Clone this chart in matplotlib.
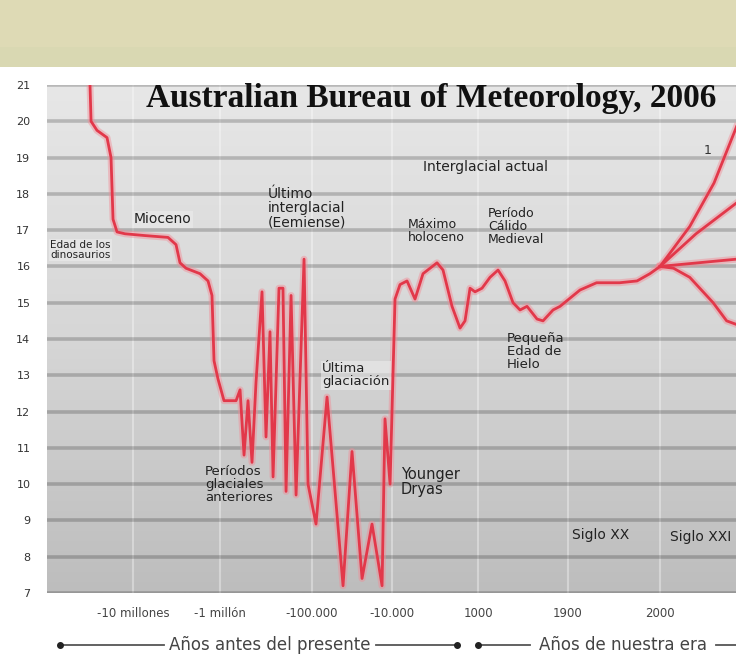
import numpy as np
import matplotlib

matplotlib.use("Agg")
import matplotlib.pyplot as plt
from matplotlib.colors import LinearSegmentedColormap
from matplotlib.lines import Line2D
from matplotlib.transforms import blended_transform_factory

# --- data: global mean temperature (°C) ---------------------------------
# x: negative = years before present, positive = calendar year (schematic axis)
hist_years = [-55.0e6, -53.9e6, -47.7e6, -37.2e6, -33.0e6, -30.9e6, -26.7e6,
              -18.4e6, -8.76e6, -6.38e6, -5.55e6, -5.14e6, -4.52e6, -3.07e6,
              -2.24e6, -1.83e6, -1.62e6, -1.21e6,
              -961e3, -843e3, -804e3, -765e3, -726e3, -687e3, -648e3, -589e3,
              -550e3, -511e3, -481e3, -423e3, -384e3, -354e3, -305e3, -256e3,
              -178e3, -139e3,
              -95.5e3, -83.1e3, -65.1e3, -55e3, -43.7e3, -32.5e3, -21.2e3,
              -17.9e3, -12.2e3,
              -9616, -8977, -8081, -7058, -6035, -4244, -3477, -2326, -1303,
              -663, -23, 616,
              1040, 1120, 1200, 1270, 1350, 1420, 1490, 1590, 1650, 1750, 1820,
              1913, 1931, 1956, 1975, 1989, 2000]
hist_temp = [21.0, 20.0, 19.75, 19.55, 19.0, 17.3, 16.95,
             16.9, 16.85, 16.8, 16.6, 16.1, 15.95, 15.8,
             15.6, 15.2, 13.4, 12.9,
             12.3, 12.3, 12.6, 10.8, 12.3, 10.6, 12.8, 15.3,
             11.3, 14.2, 10.2, 15.4, 15.4, 9.8, 15.2, 9.7,
             16.2, 10.0,
             8.9, 12.4, 7.2, 10.9, 7.4, 8.9, 7.2,
             11.8, 10.0,
             15.1, 15.5, 15.6, 15.1, 15.8, 16.1, 15.9, 14.9, 14.3,
             14.5, 15.4, 15.3,
             15.4, 15.7, 15.9, 15.6, 15.0, 14.8, 14.9, 14.55, 14.5, 14.8, 14.9,
             15.35, 15.55, 15.55, 15.6, 15.8, 16.0]

# future scenarios from 2000
scen1_years = [2000, 2033, 2060, 2085]
scen1_temp = [16.0, 17.1, 18.3, 19.85]
scen2_years = [2000, 2040, 2085]
scen2_temp = [16.0, 16.9, 17.75]
scen3_years = [2000, 2085]
scen3_temp = [16.0, 16.2]
scen4_years = [2000, 2015, 2033, 2059, 2074, 2085]
scen4_temp = [16.0, 15.95, 15.7, 15.0, 14.5, 14.4]

tick_years = [-10e6, -1e6, -1e5, -1e4, 1000, 1900, 2000]
tick_labels = ["-10 millones", "-1 millón", "-100.000", "-10.000", "1000", "1900", "2000"]

# schematic (piecewise) x axis: year -> position
anchor_years = [-100e6, -10e6, -1e6, -1e5, -1e4, 1000, 1900, 2000, 2100]
anchor_pos = [47, 133, 220, 312, 392, 478, 568, 660, 750]


def fwd(x):
    return np.interp(x, anchor_years, anchor_pos)


def inv(p):
    return np.interp(p, anchor_pos, anchor_years)


W, H = 736, 670
fig = plt.figure(figsize=(W / 100, H / 100), dpi=100)
fig.patch.set_facecolor("white")

# khaki band at the top
fig.add_artist(plt.Rectangle((0, 1 - 67 / H), 1, 67 / H, transform=fig.transFigure,
                             facecolor="#dedab5", edgecolor="none", zorder=0))
fig.add_artist(plt.Rectangle((0, 1 - 67 / H), 1, 20 / H, transform=fig.transFigure,
                             facecolor="#d9d8b2", edgecolor="none", zorder=0))

pos = [47 / W, 1 - 593 / H, 1 - 47 / W, (593 - 85) / H]

bg = fig.add_axes(pos, zorder=0)
cmap = LinearSegmentedColormap.from_list("bg", ["#bdbdbd", "#d6d6d6", "#e7e7e7"])
bg.imshow(np.linspace(1, 0, 256).reshape(-1, 1), aspect="auto", cmap=cmap,
          extent=(0, 1, 0, 1))
bg.axis("off")

ax = fig.add_axes(pos, zorder=1)
ax.patch.set_alpha(0)
ax.set_xscale("function", functions=(fwd, inv))
ax.set_xlim(-100e6, 2084.4)
ax.set_ylim(7, 21)

for s in ax.spines.values():
    s.set_visible(False)

ax.set_yticks(range(7, 22))
ax.set_yticklabels([str(v) for v in range(7, 22)], fontsize=8, color="#333333")
ax.set_xticks(tick_years)
ax.set_xticklabels(tick_labels, fontsize=8.5, color="#444444")
ax.tick_params(axis="y", length=0, pad=12)
ax.tick_params(axis="x", length=0, pad=10)
ax.grid(axis="y", color="black", alpha=0.2, lw=2.6)
for t in tick_years:
    ax.axvline(t, color="white", alpha=0.35, lw=1.5, zorder=1)

# curves: soft pink halo plus red core
red = "#e2384a"
for xs, ys in [(hist_years, hist_temp), (scen1_years, scen1_temp),
               (scen2_years, scen2_temp), (scen3_years, scen3_temp),
               (scen4_years, scen4_temp)]:
    ax.plot(xs, ys, color="#f28b96", lw=5, alpha=0.45, zorder=3, solid_joinstyle="round")
    ax.plot(xs, ys, color=red, lw=2.0, zorder=4, solid_joinstyle="round")

trans_b = blended_transform_factory(ax.transData, ax.transAxes)
ax.text(2100, -0.033, "2100", transform=trans_b, ha="center", va="center",
        fontsize=8.5, color="#444444", clip_on=False)

ax.text(0.557, 0.974, "Australian Bureau of Meteorology, 2006", transform=ax.transAxes,
        ha="center", va="center", fontsize=24, fontweight="bold",
        family="Liberation Serif", color="#111111")

lab = dict(color="#222222", zorder=5, linespacing=1.0)
box = dict(facecolor="#ececec", edgecolor="none", alpha=0.6, pad=1)
ax.text(-96.9e6, 16.45, "Edad de los\ndinosaurios", ha="left", va="center", bbox=box,
        fontsize=7.5, **lab)
ax.text(-6.9e6, 17.3, "Mioceno", ha="center", va="center", bbox=box, fontsize=10, **lab)
ax.text(-530e3, 17.6, "Último\ninterglacial\n(Eemiense)", ha="left", va="center",
        fontsize=10, **lab)
ax.text(1070, 18.75, "Interglacial actual", ha="center", va="center", fontsize=10, **lab)
ax.text(-7950, 16.97, "Máximo\nholoceno", ha="left", va="center", fontsize=9, **lab)
ax.text(1100, 17.1, "Período\nCálido\nMedieval", ha="left", va="center", fontsize=9, **lab)
ax.text(1290, 13.65, "Pequeña\nEdad de\nHielo", ha="left", va="center", fontsize=9.5, **lab)
ax.text(-88.7e3, 13.0, "Última\nglaciación", ha="left", va="center", bbox=box,
        fontsize=9.5, **lab)
ax.text(-2.56e6, 10.0, "Períodos\nglaciales\nanteriores", ha="left", va="center",
        fontsize=9.5, **lab)
ax.text(-8849, 10.05, "Younger\nDryas", ha="left", va="center", fontsize=10.5, **lab)
ax.text(1935, 8.6, "Siglo XX", ha="center", va="center", fontsize=10, **lab)
ax.text(2011, 8.55, "Siglo XXI", ha="left", va="center", fontsize=10, **lab)
ax.text(2053, 19.2, "1", ha="center", va="center", fontsize=9, color="#333333", zorder=5)

# bottom era arrows
yb = 1 - 645 / H
gray = "#555555"


def seg(x0, x1):
    fig.add_artist(Line2D([x0 / W, x1 / W], [yb, yb], transform=fig.transFigure,
                          color=gray, lw=1.3))


seg(60, 164)
seg(376, 457)
seg(478, 530)
seg(716, 736)
for xd in (60, 457, 478):
    fig.add_artist(Line2D([xd / W], [yb], transform=fig.transFigure, marker="o",
                          markersize=4, color="#222222", lw=0))
fig.text(270 / W, yb, "Años antes del presente", ha="center", va="center",
         fontsize=12, color="#444444")
fig.text(623 / W, yb, "Años de nuestra era", ha="center", va="center",
         fontsize=12, color="#444444")

fig.savefig("out.png", dpi=100)
